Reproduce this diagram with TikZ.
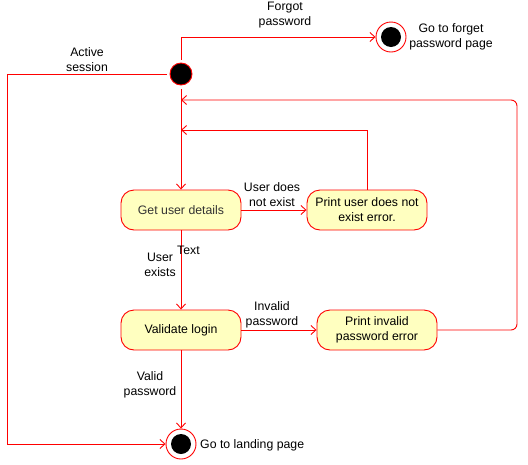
\documentclass[tikz,border=0pt]{standalone}
\usepackage{fontspec}
\setmainfont{Liberation Sans}
\usetikzlibrary{arrows.meta}
\definecolor{lred}{HTML}{FF0000}
\definecolor{lfill}{HTML}{FFFFC0}
\tikzset{
  act/.style={draw=lred, fill=lfill, rounded corners=13pt, minimum width=120pt, minimum height=40pt, align=center, inner sep=2pt, line width=0.9pt},
  startst/.style={circle, draw=lred, fill=black, minimum size=22pt, inner sep=0pt, line width=0.9pt},
  endst/.style={circle, draw=lred, fill=white, minimum size=30pt, inner sep=0pt, line width=0.9pt},
  endin/.style={circle, fill=black, minimum size=20pt, inner sep=0pt},
  flow/.style={draw=lred, line width=0.9pt, -{Straight Barb[length=5pt,width=9pt]}},
  lbl/.style={align=center, inner sep=0pt, font=\fontsize{12.3}{15}\selectfont},
}
\begin{document}
\begin{tikzpicture}[x=1pt,y=-1pt, font=\fontsize{12.3}{15}\selectfont]
\useasboundingbox (0,0) rectangle (528,464);
\node[startst] (start) at (181,74) {};
\node[endst] (fend) at (391,37) {};
\node[endin] (fendi) at (391,37) {};
\node[endst] (lend) at (181,444) {};
\node[endin] (lendi) at (181,444) {};
\node[act] (get) at (181,210) {\color[HTML]{333333}Get user details};
\node[act] (pne) at (367,210) {Print user does not\\exist error.};
\node[act] (val) at (181,330) {Validate login};
\node[act] (pip) at (377,330) {Print invalid\\password error};
\coordinate (j1) at (181,130);
\coordinate (j2) at (181,100);
% edges
\draw[flow, shorten <=3pt] (start.north) |- (fend.west);
\draw[flow, shorten <=3pt] (start.west) -- (7,74) |- (lend.west);
\draw[flow, shorten <=4pt] (start.south) -- (get.north);
\draw[flow] (get.east) -- (pne.west);
\draw[flow] (pne.north) |- (j1);
\draw[flow] (get.south) -- (val.north);
\draw[flow] (val.east) -- (pip.west);
\draw[flow, rounded corners=6pt] (pip.east) -- (517,330) -- (517,100) -- (j2);
\draw[flow] (val.south) -- (lend.north);
% labels
\node[lbl] (l1) at (285,15) {Forgot\\password};
\node[lbl] (l2) at (451,37) {Go to forget\\password page};
\node[lbl] (l3) at (87,60) {Active\\session};
\node[lbl] (l4) at (272,195) {User does\\not exist};
\node[lbl] (l5) at (160,265) {User\\exists};
\node[lbl, anchor=west] (l6) at (177,250) {Text};
\node[lbl] (l7) at (272,315) {Invalid\\password};
\node[lbl] (l8) at (150,385) {Valid\\password};
\node[lbl, anchor=west] (l9) at (200,445) {Go to landing page};
\end{tikzpicture}
\end{document}
